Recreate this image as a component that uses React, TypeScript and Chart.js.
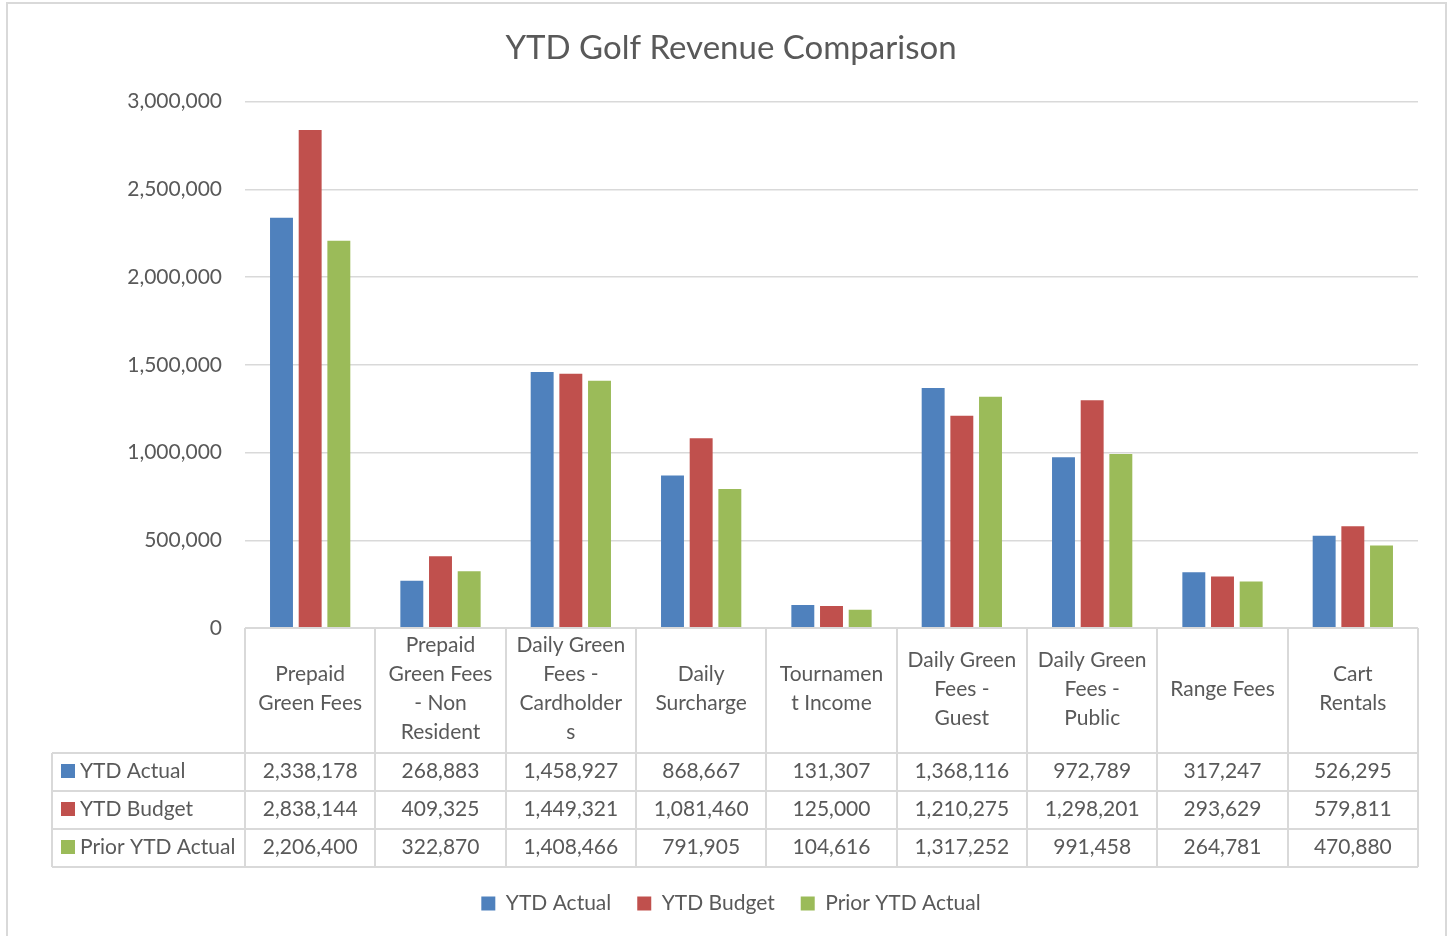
import { useEffect, useRef } from "react";
import { Chart, registerables } from "chart.js";

Chart.register(...registerables);

const categories = [
  "Prepaid Green Fees",
  "Prepaid Green Fees - Non Resident",
  "Daily Green Fees - Cardholders",
  "Daily Surcharge",
  "Tournament Income",
  "Daily Green Fees - Guest",
  "Daily Green Fees - Public",
  "Range Fees",
  "Cart Rentals",
];

const categoryLines = [
  ["Prepaid", "Green Fees"],
  ["Prepaid", "Green Fees", "- Non", "Resident"],
  ["Daily Green", "Fees -", "Cardholder", "s"],
  ["Daily", "Surcharge"],
  ["Tournamen", "t Income"],
  ["Daily Green", "Fees -", "Guest"],
  ["Daily Green", "Fees -", "Public"],
  ["Range Fees"],
  ["Cart", "Rentals"],
];

const seriesNames = ["YTD Actual", "YTD Budget", "Prior YTD Actual"];
const seriesColors = ["#4F81BD", "#C0504D", "#9BBB59"];

const ytdActual = [2338178, 268883, 1458927, 868667, 131307, 1368116, 972789, 317247, 526295];
const ytdBudget = [2838144, 409325, 1449321, 1081460, 125000, 1210275, 1298201, 293629, 579811];
const priorYtdActual = [2206400, 322870, 1408466, 791905, 104616, 1317252, 991458, 264781, 470880];

const seriesValues = [ytdActual, ytdBudget, priorYtdActual];

const yMin = 0;
const yMax = 3000000;
const yStep = 500000;

const FONT = "Lato";
const TEXT = "#595959";
const LINE = "#D9D9D9";
const FS = 21;

const fmt = (v: number) => v.toLocaleString("en-US");

const frame = {
  id: "frame",
  beforeDraw(chart: any) {
    const ctx = chart.ctx;
    ctx.save();
    ctx.fillStyle = "#ffffff";
    ctx.fillRect(0, 0, chart.width, chart.height);
    ctx.strokeStyle = LINE;
    ctx.lineWidth = 2;
    ctx.strokeRect(7, 3, 1439, 940);
    ctx.restore();
  },
};

const dataTable = {
  id: "dataTable",
  afterDraw(chart: any) {
    const ctx = chart.ctx;
    const xs = chart.scales.x;
    const { left, right, bottom } = chart.chartArea;
    const n = categories.length;
    const cw = (right - left) / n;
    const headerH = 125;
    const rowH = 38;
    const tableLeft = 52;
    const rowsTop = bottom + headerH;
    const tableBottom = rowsTop + rowH * seriesNames.length;

    ctx.save();
    ctx.strokeStyle = LINE;
    ctx.lineWidth = 2;
    ctx.beginPath();
    ctx.moveTo(left, bottom);
    ctx.lineTo(right, bottom);
    for (let i = 0; i <= n; i++) {
      const bx = Math.round(left + cw * i);
      ctx.moveTo(bx, bottom);
      ctx.lineTo(bx, tableBottom);
    }
    for (let r = 0; r <= seriesNames.length; r++) {
      const y = rowsTop + rowH * r;
      ctx.moveTo(tableLeft, y);
      ctx.lineTo(right, y);
    }
    ctx.moveTo(tableLeft, rowsTop);
    ctx.lineTo(tableLeft, tableBottom);
    ctx.stroke();

    ctx.fillStyle = TEXT;
    ctx.font = `${FS}px ${FONT}`;
    ctx.textAlign = "center";
    ctx.textBaseline = "middle";
    const lh = 29;
    for (let i = 0; i < n; i++) {
      const cx = xs.getPixelForValue(i);
      const lines = categoryLines[i];
      const mid = bottom + headerH / 2 - 1.5;
      const start = mid - ((lines.length - 1) * lh) / 2;
      lines.forEach((t, k) => ctx.fillText(t, cx, start + k * lh));
      seriesValues.forEach((vals, r) => {
        ctx.fillText(fmt(vals[i]), cx, rowsTop + rowH * r + rowH / 2 - 1);
      });
    }
    ctx.textAlign = "left";
    seriesNames.forEach((name, r) => {
      const cy = rowsTop + rowH * r + rowH / 2;
      ctx.fillStyle = seriesColors[r];
      ctx.fillRect(61, cy - 8, 14, 14);
      ctx.fillStyle = TEXT;
      ctx.fillText(name, 80, cy - 1);
    });
    ctx.restore();
  },
};

export default function App() {
  const ref = useRef<HTMLCanvasElement>(null);

  useEffect(() => {
    if (!ref.current) return;
    const chart = new Chart(ref.current, {
      type: "bar",
      data: {
        labels: categories,
        datasets: seriesNames.map((name, i) => ({
          label: name,
          data: seriesValues[i],
          backgroundColor: seriesColors[i],
          borderWidth: 0,
          categoryPercentage: 0.66,
          barPercentage: 0.8,
        })),
      },
      options: {
        animation: false,
        responsive: false,
        devicePixelRatio: 1,
        layout: { padding: { left: 44, right: 30, top: 0, bottom: 12 } },
        plugins: {
          title: {
            display: true,
            text: "YTD Golf Revenue Comparison",
            color: TEXT,
            font: { family: FONT, size: 33, weight: "normal" },
            padding: { top: 29, bottom: 33 },
          },
          legend: {
            position: "bottom",
            labels: {
              color: TEXT,
              font: { family: FONT, size: FS },
              boxWidth: 14,
              boxHeight: 14,
              padding: 26,
            },
          },
          tooltip: { enabled: false },
        },
        scales: {
          x: {
            grid: { display: false },
            border: { display: false },
            ticks: { display: false },
            afterFit: (s: any) => {
              s.height = 239;
            },
          },
          y: {
            min: yMin,
            max: yMax,
            grid: { color: LINE, lineWidth: 1.5, drawTicks: false },
            border: { display: false },
            ticks: {
              stepSize: yStep,
              color: TEXT,
              padding: 23,
              font: { family: FONT, size: FS },
              callback: (v: any) => fmt(Number(v)),
            },
            afterFit: (s: any) => {
              s.width = 201;
            },
          },
        },
      },
      plugins: [frame, dataTable],
    });
    return () => chart.destroy();
  }, []);

  return (
    <div style={{ position: "absolute", left: 0, top: 0, width: 1448, height: 936 }}>
      <canvas ref={ref} width={1448} height={936} />
    </div>
  );
}
